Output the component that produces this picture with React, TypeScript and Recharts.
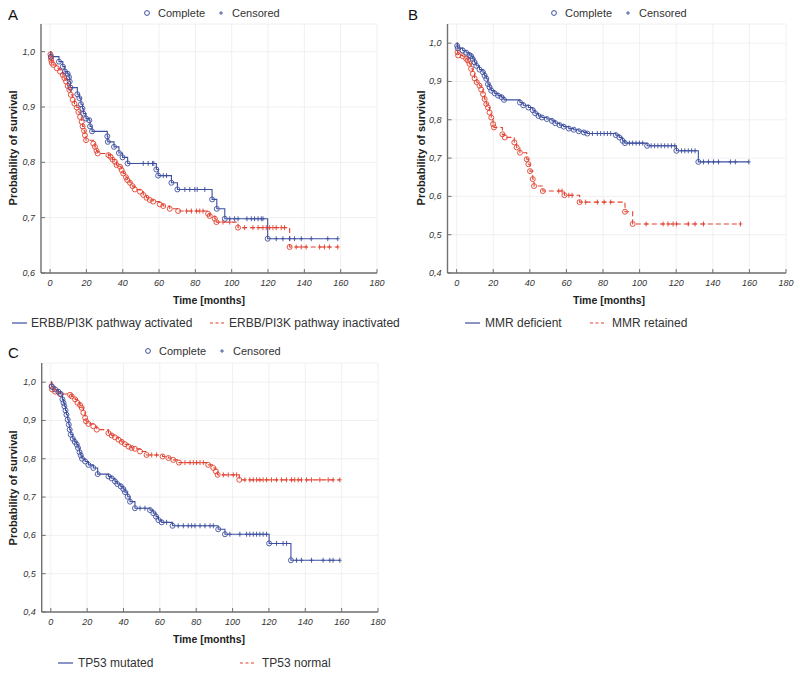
import React from 'react';
import { ComposedChart, Line, Scatter, XAxis, YAxis, CartesianGrid } from 'recharts';

type Pt = [number, number];

// ---------- Panel A : ERBB/PI3K ----------
const A_ACT_EVENTS: Pt[] = [
  [0.5, 0.991], [4.9, 0.982], [7.0, 0.973], [8.2, 0.964], [9.7, 0.96], [10.4, 0.954], [10.8, 0.946], [11.2, 0.935],
  [15.0, 0.923], [16.1, 0.916], [17.0, 0.905], [17.8, 0.897], [18.3, 0.888], [19.8, 0.879], [21.6, 0.876], [22.0, 0.865],
  [23.1, 0.856], [31.5, 0.847], [31.8, 0.837], [35.2, 0.828], [37.9, 0.817], [39.9, 0.809], [42.7, 0.798], [58.5, 0.787],
  [59.5, 0.776], [66.8, 0.763], [70.1, 0.751], [89.2, 0.733], [91.8, 0.716], [96.2, 0.698], [119.8, 0.662],
];
const A_ACT_CENSORED: number[] = [
  51.3, 54.0, 56.4, 57.1, 62.3, 64.1, 74.2, 76.9, 79.7, 81.0, 85.2, 98.9, 101.6, 103.5, 108.4, 110.8, 112.6, 114.5,
  116.3, 117.2, 124.5, 128.2, 131.9, 134.6, 138.3, 143.8, 152.9, 158.4,
];
const A_INACT_EVENTS: Pt[] = [
  [0.2, 0.995], [0.4, 0.99], [0.6, 0.985], [0.9, 0.98], [1.8, 0.976], [3.7, 0.97], [5.5, 0.964], [7.0, 0.958],
  [7.9, 0.952], [8.8, 0.946], [9.7, 0.938], [10.6, 0.931], [11.4, 0.922], [12.5, 0.913], [13.4, 0.906], [14.7, 0.899],
  [15.6, 0.891], [16.5, 0.882], [17.4, 0.873], [17.9, 0.865], [18.7, 0.857], [19.2, 0.849], [19.8, 0.84], [23.8, 0.834],
  [24.7, 0.828], [25.6, 0.821], [26.2, 0.816], [32.1, 0.813], [33.3, 0.81], [34.4, 0.805], [35.7, 0.801], [36.6, 0.795],
  [38.5, 0.792], [39.4, 0.786], [40.3, 0.78], [41.8, 0.773], [42.5, 0.768], [44.0, 0.763], [45.4, 0.757], [46.7, 0.751],
  [49.5, 0.747], [51.3, 0.741], [53.1, 0.736], [54.9, 0.732], [56.8, 0.729], [60.4, 0.724], [62.3, 0.721], [65.9, 0.716],
  [70.5, 0.712], [87.0, 0.707], [87.9, 0.703], [90.7, 0.698], [91.6, 0.692], [103.5, 0.682], [131.9, 0.647],
];
const A_INACT_CENSORED: number[] = [
  75.1, 77.8, 80.6, 82.4, 84.2, 95.2, 98.9, 107.1, 111.7, 114.5, 117.2, 119.0, 120.9, 122.7, 124.5, 127.3, 129.1,
  135.5, 138.3, 141.0, 148.4, 151.1, 153.8, 158.4,
];

// ---------- Panel B : MMR ----------
const B_DEF_EVENTS: Pt[] = [
  [0.3, 0.993], [0.6, 0.987], [3.3, 0.981], [5.2, 0.975], [7.0, 0.969], [7.9, 0.966], [8.8, 0.959], [9.8, 0.95],
  [10.7, 0.941], [12.5, 0.931], [14.4, 0.924], [15.3, 0.915], [16.2, 0.907], [17.1, 0.893], [18.0, 0.885], [18.9, 0.876],
  [20.8, 0.869], [22.6, 0.863], [24.5, 0.859], [25.9, 0.852], [34.6, 0.845], [36.4, 0.838], [39.2, 0.832], [41.6, 0.825],
  [42.9, 0.817], [44.7, 0.81], [46.6, 0.806], [49.3, 0.802], [52.1, 0.797], [53.9, 0.791], [56.3, 0.786], [58.5, 0.782],
  [61.3, 0.777], [64.0, 0.774], [66.8, 0.77], [69.5, 0.767], [71.4, 0.764], [87.0, 0.76], [88.9, 0.754], [90.7, 0.745],
  [92.0, 0.739], [104.1, 0.732], [120.1, 0.719], [132.1, 0.69],
];
const B_DEF_CENSORED: number[] = [
  74.2, 76.9, 78.7, 80.6, 82.4, 84.2, 94.4, 96.2, 98.1, 99.9, 101.7, 106.3, 108.2, 110.0, 111.8, 113.7, 115.5, 117.4,
  119.2, 122.9, 124.7, 126.6, 128.4, 130.3, 134.9, 137.6, 140.4, 143.1, 149.6, 152.3, 159.7,
];
const B_RET_EVENTS: Pt[] = [
  [0.5, 0.976], [0.8, 0.968], [3.3, 0.966], [5.2, 0.959], [6.1, 0.955], [7.0, 0.946], [7.9, 0.933], [8.8, 0.92],
  [9.8, 0.908], [11.0, 0.898], [12.5, 0.889], [13.4, 0.879], [14.4, 0.867], [15.3, 0.854], [16.2, 0.841], [17.1, 0.832],
  [18.0, 0.819], [18.9, 0.806], [19.9, 0.789], [20.4, 0.78], [25.0, 0.762], [26.3, 0.754], [31.5, 0.741], [32.8, 0.728],
  [34.6, 0.714], [38.3, 0.697], [39.2, 0.684], [40.1, 0.666], [41.6, 0.645], [42.3, 0.627], [47.1, 0.614], [58.9, 0.603],
  [67.2, 0.585], [92.0, 0.56], [96.2, 0.528],
];
const B_RET_CENSORED: number[] = [
  55.8, 57.6, 61.3, 63.1, 70.5, 76.9, 80.6, 84.2, 103.6, 112.8, 115.5, 118.3, 120.1, 126.6, 130.3, 134.9, 155.1,
];

// ---------- Panel C : TP53 ----------
const C_MUT_EVENTS: Pt[] = [
  [0.5, 0.988], [2.4, 0.981], [4.2, 0.975], [5.5, 0.969], [6.4, 0.955], [7.0, 0.946], [7.5, 0.937], [8.1, 0.926],
  [8.6, 0.915], [9.3, 0.902], [9.9, 0.889], [10.4, 0.876], [11.0, 0.863], [12.1, 0.852], [13.2, 0.844], [14.3, 0.837],
  [15.0, 0.828], [15.8, 0.817], [16.5, 0.809], [17.2, 0.8], [18.9, 0.793], [20.7, 0.784], [23.4, 0.776], [25.8, 0.76],
  [31.7, 0.754], [33.5, 0.749], [35.3, 0.741], [36.6, 0.734], [38.5, 0.728], [39.9, 0.721], [40.8, 0.713], [42.3, 0.701],
  [43.6, 0.688], [46.3, 0.671], [54.6, 0.666], [56.4, 0.658], [57.9, 0.649], [59.2, 0.64], [61.0, 0.634], [67.0, 0.625],
  [92.1, 0.616], [95.8, 0.603], [120.1, 0.579], [132.1, 0.535],
];
const C_MUT_CENSORED: number[] = [
  49.1, 51.8, 63.7, 70.1, 72.9, 75.6, 77.5, 79.3, 82.1, 84.8, 87.6, 89.4, 98.5, 104.0, 107.7, 109.5, 111.4, 113.2,
  115.0, 116.8, 118.7, 124.2, 127.8, 129.7, 135.2, 137.9, 143.4, 149.8, 153.5, 155.3, 159.0,
];
const C_NORM_EVENTS: Pt[] = [
  [0.5, 0.99], [0.7, 0.981], [2.4, 0.975], [5.1, 0.969], [10.6, 0.967], [11.5, 0.963], [13.4, 0.955], [14.7, 0.946],
  [16.1, 0.94], [17.0, 0.933], [17.9, 0.92], [18.9, 0.907], [19.4, 0.898], [20.7, 0.891], [23.4, 0.885], [25.3, 0.876],
  [31.7, 0.867], [33.5, 0.861], [35.3, 0.856], [37.2, 0.85], [39.0, 0.844], [40.8, 0.838], [42.7, 0.832], [44.5, 0.828],
  [46.3, 0.826], [49.1, 0.819], [52.7, 0.81], [61.5, 0.806], [64.7, 0.802], [67.4, 0.797], [70.5, 0.79], [86.6, 0.784],
  [89.4, 0.776], [90.8, 0.767], [91.8, 0.758], [103.7, 0.745],
];
const C_NORM_CENSORED: number[] = [
  55.5, 58.2, 73.8, 76.6, 78.4, 80.2, 82.1, 83.9, 94.9, 97.6, 100.4, 102.2, 106.8, 109.5, 111.4, 113.2, 115.0, 116.8,
  118.7, 121.4, 124.2, 126.9, 129.7, 132.4, 134.2, 136.1, 137.9, 140.7, 143.4, 148.0, 152.6, 155.3, 159.0,
];

// ---------- Axis ticks / labels ----------
const X_TICKS = [0, 20, 40, 60, 80, 100, 120, 140, 160, 180];
const X_DOMAIN: [number, number] = [-5, 180];
const Y_TICKS_A = [0.6, 0.7, 0.8, 0.9, 1.0];
const Y_DOMAIN_A: [number, number] = [0.6, 1.05];
const Y_TICKS_BC = [0.4, 0.5, 0.6, 0.7, 0.8, 0.9, 1.0];
const Y_DOMAIN_BC: [number, number] = [0.4, 1.05];
const LEGEND_A = ['ERBB/PI3K pathway activated', 'ERBB/PI3K pathway inactivated'];
const LEGEND_B = ['MMR deficient', 'MMR retained'];
const LEGEND_C = ['TP53 mutated', 'TP53 normal'];

const BLUE = '#3d4f9f';
const RED = '#e2412f';
const FRAME = '#707070';
const TXT = '#333333';
const FONT = 'Arial, "Liberation Sans", sans-serif';

type Row = { t: number; s: number };

function survAt(ev: Pt[], t: number): number {
  let s = 1;
  for (const [et, es] of ev) if (et <= t) s = es;
  return s;
}

function buildCurve(ev: Pt[], cens: number[]) {
  const last = ev[ev.length - 1];
  const end = Math.max(last[0], ...cens);
  const line: Row[] = [{ t: 0, s: 1 }, ...ev.map(([t, s]) => ({ t, s })), { t: end, s: last[1] }];
  const events: Row[] = ev.map(([t, s]) => ({ t, s }));
  const censored: Row[] = cens.map((t) => ({ t, s: survAt(ev, t) }));
  return { line, events, censored };
}

const fmtY = (v: number) => v.toFixed(1).replace('.', ',');

const XTick = (p: any) => (
  <g>
    <line x1={p.x} y1={p.y} x2={p.x} y2={p.y - 4} stroke={FRAME} strokeWidth={1} />
    <text x={p.x} y={p.y + 13} textAnchor="middle" fontSize={9} fontStyle="italic" fill={TXT} fontFamily={FONT}>
      {p.payload.value}
    </text>
  </g>
);
const XTopTick = (p: any) => (
  <line x1={p.x} y1={p.y} x2={p.x} y2={p.y + 4} stroke={FRAME} strokeWidth={1} />
);
const YTick = (p: any) => (
  <g>
    <line x1={p.x} y1={p.y} x2={p.x + 4} y2={p.y} stroke={FRAME} strokeWidth={1} />
    <text x={p.x - 6} y={p.y + 3} textAnchor="end" fontSize={9} fontStyle="italic" fill={TXT} fontFamily={FONT}>
      {fmtY(p.payload.value)}
    </text>
  </g>
);
const YRightTick = (p: any) => (
  <line x1={p.x} y1={p.y} x2={p.x - 4} y2={p.y} stroke={FRAME} strokeWidth={1} />
);

const circleShape = (c: string) => (p: any) => (
  <circle cx={p.cx} cy={p.cy} r={2.5} fill="none" stroke={c} strokeWidth={0.9} />
);
const plusShape = (c: string) => (p: any) => (
  <g stroke={c} strokeWidth={0.9}>
    <line x1={p.cx - 1.8} y1={p.cy} x2={p.cx + 1.8} y2={p.cy} />
    <line x1={p.cx} y1={p.cy - 2.5} x2={p.cx} y2={p.cy + 2.5} />
  </g>
);

type SeriesDef = { events: Pt[]; censored: number[]; color: string; dashed: boolean };

function Panel(props: {
  left: number; top: number; width: number; height: number;
  margin: { top: number; right: number; bottom: number; left: number };
  yWidth: number; yDomain: [number, number]; yTicks: number[]; series: SeriesDef[];
}) {
  const { left, top, width, height, margin, yWidth, yDomain, yTicks, series } = props;
  const built = series.map((s) => ({ ...buildCurve(s.events, s.censored), color: s.color, dashed: s.dashed }));
  const axisLine = { stroke: FRAME, strokeWidth: 1.4 };
  return (
    <div style={{ position: 'absolute', left, top }}>
      <ComposedChart width={width} height={height} margin={margin}>
        <CartesianGrid stroke="#ececec" strokeWidth={0.8} />
        <XAxis xAxisId={0} dataKey="t" type="number" domain={X_DOMAIN} ticks={X_TICKS} interval={0}
          allowDataOverflow tickSize={0} tickMargin={0} tickLine={false} axisLine={axisLine} tick={XTick} height={30} />
        <XAxis xAxisId="top" orientation="top" type="number" domain={X_DOMAIN} ticks={X_TICKS} interval={0}
          allowDataOverflow tickSize={0} tickMargin={0} tickLine={false} axisLine={axisLine} tick={XTopTick} height={0} />
        <YAxis yAxisId={0} dataKey="s" type="number" domain={yDomain} ticks={yTicks} interval={0}
          allowDataOverflow tickSize={0} tickMargin={0} tickLine={false} axisLine={axisLine} tick={YTick} width={yWidth} />
        <YAxis yAxisId="right" orientation="right" type="number" domain={yDomain} ticks={yTicks} interval={0}
          allowDataOverflow tickSize={0} tickMargin={0} tickLine={false} axisLine={axisLine} tick={YRightTick} width={0} />
        {built.map((b, i) => (
          <Line key={'line' + i} data={b.line} dataKey="s" type="stepAfter" stroke={b.color} strokeWidth={1.1}
            strokeDasharray={b.dashed ? '5 3' : undefined} dot={false} activeDot={false} isAnimationActive={false} />
        ))}
        {built.map((b, i) => (
          <Scatter key={'ev' + i} data={b.events} dataKey="s" shape={circleShape(b.color)} isAnimationActive={false} />
        ))}
        {built.map((b, i) => (
          <Scatter key={'ce' + i} data={b.censored} dataKey="s" shape={plusShape(b.color)} isAnimationActive={false} />
        ))}
      </ComposedChart>
    </div>
  );
}

function Annotations(props: {
  ox: number; oy: number; letter: string; legend: string[]; cx: number; yTitleX: number; yTitleY: number;
  xTitleY: number; botY: number; bot: [number, number, number, number];
}) {
  const { ox, oy, letter, legend, cx, yTitleX, yTitleY, xTitleY, botY, bot } = props;
  return (
    <g transform={`translate(${ox},${oy})`} fontFamily={FONT}>
      <text x={8} y={20} fontSize={15} fill="#111">{letter}</text>
      <circle cx={cx} cy={13} r={2.4} fill="none" stroke={BLUE} strokeWidth={1} />
      <text x={cx + 11} y={17} fontSize={11} fill={TXT}>Complete</text>
      <g stroke={BLUE} strokeWidth={0.9}>
        <line x1={cx + 72} y1={13} x2={cx + 76} y2={13} />
        <line x1={cx + 74} y1={11} x2={cx + 74} y2={15} />
      </g>
      <text x={cx + 85} y={17} fontSize={11} fill={TXT}>Censored</text>
      <text x={yTitleX} y={yTitleY} transform={`rotate(-90 ${yTitleX} ${yTitleY})`} textAnchor="middle"
        fontSize={11} fontWeight="bold" fill="#222">Probability of survival</text>
      <text x={209} y={xTitleY} textAnchor="middle" fontSize={10.5} fontWeight="bold" fill="#222">Time [months]</text>
      <line x1={bot[0]} y1={botY} x2={bot[0] + 15} y2={botY} stroke={BLUE} strokeWidth={1.2} />
      <text x={bot[1]} y={botY + 4} fontSize={12} fill={TXT}>{legend[0]}</text>
      <line x1={bot[2]} y1={botY} x2={bot[2] + 16} y2={botY} stroke={RED} strokeWidth={1.2} strokeDasharray="3 2.5" />
      <text x={bot[3]} y={botY + 4} fontSize={12} fill={TXT}>{legend[1]}</text>
    </g>
  );
}

export default function App() {
  return (
    <div style={{ position: 'absolute', left: 0, top: 0, width: 800, height: 675, background: '#fff' }}>
      <Panel left={0} top={0} width={400} height={335} margin={{ top: 24, right: 23, bottom: 32, left: 0 }}
        yWidth={41} yDomain={Y_DOMAIN_A} yTicks={Y_TICKS_A}
        series={[
          { events: A_INACT_EVENTS, censored: A_INACT_CENSORED, color: RED, dashed: true },
          { events: A_ACT_EVENTS, censored: A_ACT_CENSORED, color: BLUE, dashed: false },
        ]} />
      <Panel left={400} top={0} width={400} height={335} margin={{ top: 24, right: 14, bottom: 32, left: 6 }}
        yWidth={41.5} yDomain={Y_DOMAIN_BC} yTicks={Y_TICKS_BC}
        series={[
          { events: B_RET_EVENTS, censored: B_RET_CENSORED, color: RED, dashed: true },
          { events: B_DEF_EVENTS, censored: B_DEF_CENSORED, color: BLUE, dashed: false },
        ]} />
      <Panel left={0} top={335} width={400} height={340} margin={{ top: 28, right: 22, bottom: 33, left: 0 }}
        yWidth={41.7} yDomain={Y_DOMAIN_BC} yTicks={Y_TICKS_BC}
        series={[
          { events: C_NORM_EVENTS, censored: C_NORM_CENSORED, color: RED, dashed: true },
          { events: C_MUT_EVENTS, censored: C_MUT_CENSORED, color: BLUE, dashed: false },
        ]} />
      <svg width={800} height={675} style={{ position: 'absolute', left: 0, top: 0, pointerEvents: 'none' }}>
        <Annotations ox={0} oy={0} letter="A" legend={LEGEND_A} cx={147} yTitleX={17} yTitleY={148}
          xTitleY={304} botY={323} bot={[12, 31, 210, 229]} />
        <Annotations ox={400} oy={0} letter="B" legend={LEGEND_B} cx={154} yTitleX={25} yTitleY={148}
          xTitleY={304} botY={323} bot={[65, 85, 190, 212]} />
        <Annotations ox={0} oy={338} letter="C" legend={LEGEND_C} cx={148} yTitleX={17} yTitleY={150}
          xTitleY={305} botY={325} bot={[58, 78, 240, 262]} />
      </svg>
    </div>
  );
}
